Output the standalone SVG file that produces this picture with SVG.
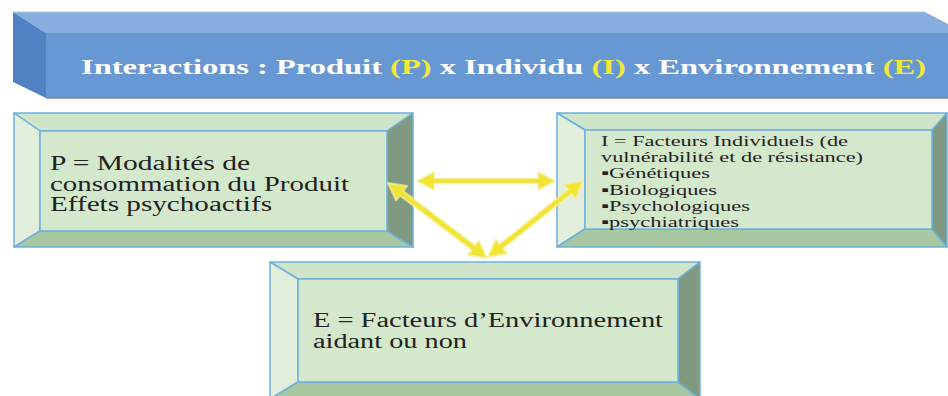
<svg xmlns="http://www.w3.org/2000/svg" width="948" height="396" viewBox="0 0 948 396">
<style>
.edge{stroke:#6eb1de;stroke-width:1.5;stroke-linejoin:round}
.ft{fill:#cfe4c8}.fl{fill:#e1eedb}.fb{fill:#a7c8a0}.fr{fill:#7f9a80}.ff{fill:#d4e8cc}
.t{font-family:"Liberation Serif","Times New Roman",serif;fill:#222}
.arr{fill:#f1e433;stroke:#f6f0a0;stroke-width:2;stroke-opacity:.7;stroke-linejoin:round}
</style>
<rect width="948" height="396" fill="#ffffff"/>
<g id="banner">
  <polygon points="13,12 925,12 948,24 948,33 46,33" fill="#86afe0"/>
  <polygon points="13,12 46,33 46,98 13,82" fill="#5082c3"/>
  <rect x="46" y="33" width="902" height="65" fill="#6898d3"/>
  <line x1="46" y1="98" x2="948" y2="98" stroke="#7d86a8" stroke-width="1.5"/>
  <line x1="13" y1="12" x2="925" y2="12" stroke="#a8c2e6" stroke-width="1"/>
  <text class="t" x="81" y="74" font-size="21" font-weight="bold" fill="#ffffff" style="fill:#ffffff" textLength="845" lengthAdjust="spacingAndGlyphs">Interactions : Produit <tspan fill="#f2e83a" style="fill:#f2e83a">(P)</tspan> x Individu <tspan fill="#f2e83a" style="fill:#f2e83a">(I)</tspan> x Environnement <tspan fill="#f2e83a" style="fill:#f2e83a">(E)</tspan></text>
</g>
<g id="nodeP">
  <polygon class="ft edge" points="14,113 413,113 387,131 40,131"/>
  <polygon class="fl edge" points="14,113 40,131 40,231 14,247"/>
  <polygon class="fb edge" points="14,247 40,231 387,231 413,247"/>
  <polygon class="fr edge" points="413,113 413,247 387,231 387,131"/>
  <rect class="ff edge" x="40" y="131" width="347" height="100"/>
  <text class="t" font-size="20" x="50" y="170" textLength="200" lengthAdjust="spacingAndGlyphs">P = Modalités de</text>
  <text class="t" font-size="20" x="50" y="191" textLength="299" lengthAdjust="spacingAndGlyphs">consommation du Produit</text>
  <text class="t" font-size="20" x="50" y="211" textLength="222" lengthAdjust="spacingAndGlyphs">Effets psychoactifs</text>
</g>
<g id="nodeI">
  <polygon class="ft edge" points="557,113 947,113 932,130 585,130"/>
  <polygon class="fl edge" points="557,113 585,130 585,229 557,247"/>
  <polygon class="fb edge" points="557,247 585,229 932,229 947,247"/>
  <polygon class="fr edge" points="947,113 947,247 932,229 932,130"/>
  <rect class="ff edge" x="585" y="130" width="347" height="99"/>
  <text class="t" font-size="15" x="601" y="146" textLength="247" lengthAdjust="spacingAndGlyphs">I = Facteurs Individuels (de</text>
  <text class="t" font-size="15" x="601" y="162" textLength="262" lengthAdjust="spacingAndGlyphs">vulnérabilité et de résistance)</text>
  <text class="t" font-size="15" x="601" y="178" textLength="109" lengthAdjust="spacingAndGlyphs">▪Génétiques</text>
  <text class="t" font-size="15" x="601" y="195" textLength="116" lengthAdjust="spacingAndGlyphs">▪Biologiques</text>
  <text class="t" font-size="15" x="601" y="211" textLength="149" lengthAdjust="spacingAndGlyphs">▪Psychologiques</text>
  <text class="t" font-size="15" x="601" y="227" textLength="138" lengthAdjust="spacingAndGlyphs">▪psychiatriques</text>
</g>
<g id="nodeE">
  <polygon class="ft edge" points="270,262 700,262 678,279 298,279"/>
  <polygon class="fl edge" points="270,262 298,279 298,382 270,399"/>
  <polygon class="fb edge" points="270,399 298,382 678,382 700,399"/>
  <polygon class="fr edge" points="700,262 700,399 678,382 678,279"/>
  <rect class="ff edge" x="298" y="279" width="380" height="103"/>
  <text class="t" font-size="20" x="313" y="327" textLength="350" lengthAdjust="spacingAndGlyphs">E = Facteurs d’Environnement</text>
  <text class="t" font-size="20" x="313" y="348" textLength="154" lengthAdjust="spacingAndGlyphs">aidant ou non</text>
</g>
<g id="connectors">
  <polygon class="arr" points="417,181 434,172 434,178.5 538,178.5 538,172 555,181 538,190 538,183.5 434,183.5 434,190"/>
  <polygon class="arr" transform="translate(388,183) rotate(37.15)" points="0,0 17,-9 17,-2.8 107.2,-2.8 107.2,-9 124.2,0 107.2,9 107.2,2.8 17,2.8 17,9"/>
  <polygon class="arr" transform="translate(583,181) rotate(141.34)" points="0,0 17,-9 17,-2.8 104.7,-2.8 104.7,-9 121.7,0 104.7,9 104.7,2.8 17,2.8 17,9"/>
</g>
</svg>
